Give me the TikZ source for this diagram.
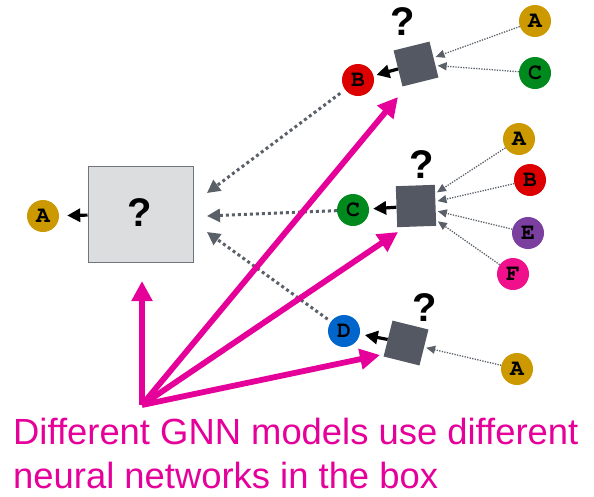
\documentclass[tikz,border=0pt]{standalone}
\usepackage{fontspec}
\setmainfont{Liberation Sans}
\usetikzlibrary{arrows.meta}
\newcommand{\courb}{\fontencoding{T1}\fontfamily{pcr}\fontseries{b}\fontsize{23}{23}\selectfont}
\definecolor{cgold}{RGB}{204,153,0}
\definecolor{cred}{RGB}{221,0,0}
\definecolor{cgreen}{RGB}{0,138,30}
\definecolor{cblue}{RGB}{0,102,204}
\definecolor{cpurple}{RGB}{123,63,160}
\definecolor{cpink}{RGB}{240,16,140}
\definecolor{sqgray}{RGB}{83,88,98}
\definecolor{boxfill}{RGB}{220,221,223}
\definecolor{boxline}{RGB}{110,117,124}
\definecolor{dgray}{RGB}{90,96,104}
\definecolor{mag}{RGB}{229,0,154}
\tikzset{
  circ/.style={circle, inner sep=0pt, minimum size=32pt, text=black, font=\courb},
  sqnode/.style={fill=sqgray, inner sep=0pt, minimum size=37pt},
  bigbox/.style={fill=boxfill, draw=boxline, line width=1pt, minimum width=105pt, minimum height=96pt, inner sep=0pt},
  qm/.style={inner sep=0pt, font=\bfseries\fontsize{40}{40}\selectfont},
  blk/.style={-{Triangle[length=13pt,width=13pt]}, line width=3.2pt, black},
  thin/.style={-{Triangle[length=9pt,width=8pt]}, dgray, line width=1.3pt, dash pattern=on 1.3pt off 1.3pt},
  thick/.style={-{Triangle[length=13pt,width=13pt]}, dgray, line width=3pt, dash pattern=on 3pt off 3pt},
  magarr/.style={-{Triangle[length=20pt,width=20pt]}, mag, line width=5.8pt},
  caption/.style={anchor=base west, inner sep=0pt, text=mag, font=\fontsize{36.4}{46}\selectfont}
}
\begin{document}
\begin{tikzpicture}[x=1pt,y=-1pt]
\useasboundingbox (0,0) rectangle (594,496);
% big box
\node[bigbox] (box) at (140.5,214) {};
\node[qm] (q0) at (140,213) {?};
\node[circ, fill=cgold] (A0) at (43,216) {A};
% top group
\node[sqnode, rotate=14] (s1) at (416,64) {};
\node[qm] (q1) at (403,22) {?};
\node[circ, fill=cred] (B1) at (358,80) {B};
\node[circ, fill=cgold] (A1) at (535,21) {A};
\node[circ, fill=cgreen] (C1) at (535,73) {C};
% middle group
\node[sqnode, rotate=2, minimum width=39pt, minimum height=41pt] (s2) at (416,206) {};
\node[qm] (q2) at (422,165) {?};
\node[circ, fill=cgreen] (C2) at (353,210) {C};
\node[circ, fill=cgold] (A2) at (519,139) {A};
\node[circ, fill=cred] (B2) at (530,180) {B};
\node[circ, fill=cpurple] (E2) at (528,233) {E};
\node[circ, fill=cpink] (F2) at (513,274) {F};
% bottom group
\node[sqnode, rotate=-14] (s3) at (406,343) {};
\node[qm] (q3) at (425,308) {?};
\node[circ, fill=cblue] (D3) at (344,331) {D};
\node[circ, fill=cgold] (A3) at (517,369) {A};
% coordinates
\coordinate (t1) at (207,193);
\coordinate (t2) at (207,216);
\coordinate (t3) at (207,232);
\coordinate (o) at (142,405);
\coordinate (mv) at (142,281);
\coordinate (m1) at (398,97);
\coordinate (m2) at (398,232);
\coordinate (m3) at (380,355);
% black arrows
\draw[blk, shorten >=8pt] (box) -- (A0);
\draw[blk, shorten >=3pt] (s1) -- (B1);
\draw[blk, shorten >=4pt] (s2) -- (C2);
\draw[blk, shorten >=5pt] (s3) -- (D3);
% thin dotted arrows
\draw[thin, shorten >=2pt] (A1) -- (s1);
\draw[thin, shorten >=2pt] (C1) -- (s1);
\draw[thin, shorten >=2pt] (A2) -- (s2);
\draw[thin, shorten >=2pt] (B2) -- (s2);
\draw[thin, shorten >=2pt] (E2) -- (s2);
\draw[thin, shorten >=2pt] (F2) -- (s2);
\draw[thin, shorten >=2pt] (A3) -- (s3);
% thick dotted arrows
\draw[thick, shorten <=6pt] (B1) -- (t1);
\draw[thick] (C2) -- (t2);
\draw[thick, shorten <=4pt] (D3) -- (t3);
% magenta arrows
\draw[magarr] (o) -- (mv);
\draw[magarr] (o) -- (m1);
\draw[magarr] (o) -- (m2);
\draw[magarr] (o) -- (m3);
% caption
\node[caption] (cap1) at (13,444) {Different GNN models use different};
\node[caption] (cap2) at (13,488) {neural networks in the box};
\end{tikzpicture}
\end{document}
